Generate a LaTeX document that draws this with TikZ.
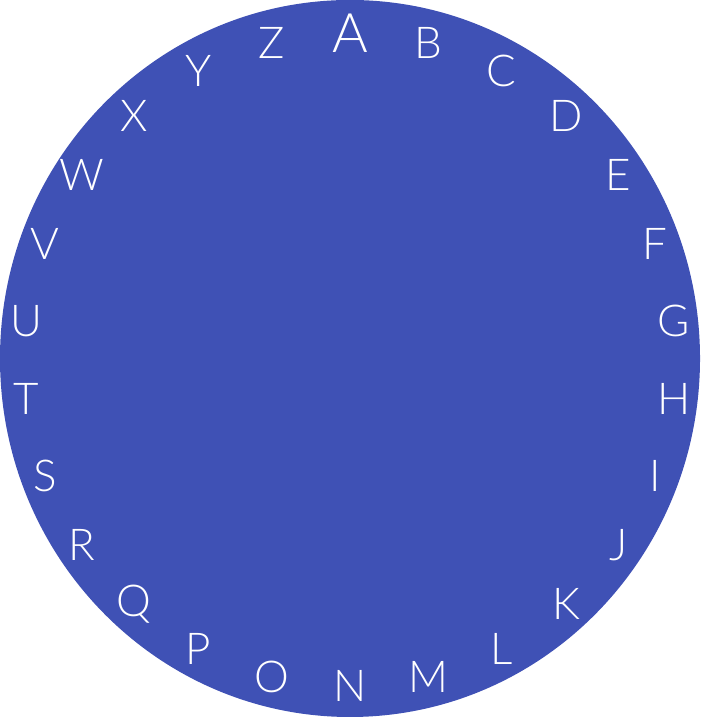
\documentclass[tikz,border=0pt]{standalone}
\usepackage{fontspec}
\setmainfont{Lato}[UprightFont={* Light}]
\usetikzlibrary{calc}
\definecolor{indigo}{HTML}{3F51B5}

\begin{document}
\begin{tikzpicture}[
  disc/.style={fill=indigo, draw=none},
  letter/.style={text=white, inner sep=0pt, font=\fontsize{12.5}{14}\selectfont},
  bigletter/.style={letter, font=\fontsize{15.5}{18}\selectfont}
]
\useasboundingbox (0,0) rectangle (7,7.17);
\fill[disc] (3.5,3.585) ellipse [x radius=3.5, y radius=3.585];
\coordinate (c) at (3.5,3.57);
\node[bigletter] (A) at ($(c)+(90:3.27)$) {A};
\foreach \l [count=\i] in {B,...,Z}
  \node[letter] (\l) at ($(c)+({90-\i*360/26}:3.26)$) {\l};
\end{tikzpicture}
\end{document}
